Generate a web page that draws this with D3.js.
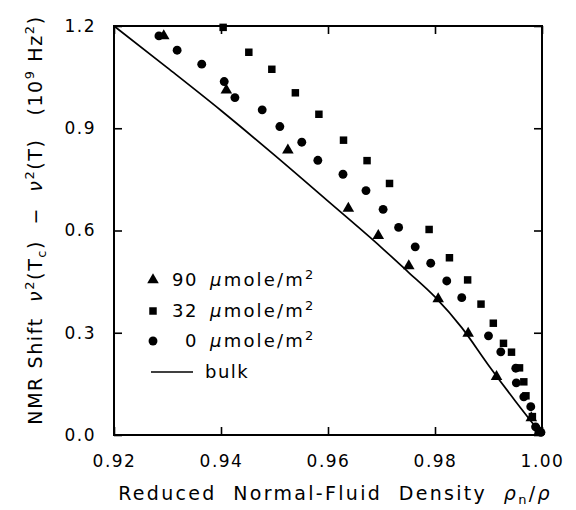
<!DOCTYPE html>
<html><head><meta charset="utf-8">
<script src="https://cdn.jsdelivr.net/npm/d3@7"></script>
<style>
body{margin:0;background:#fff;}
text{font-family:"DejaVu Sans",sans-serif;fill:#000;}
</style></head>
<body><svg id="c" width="576" height="510"></svg>
<script>
// ---- data ----
const xTicks = [0.92, 0.94, 0.96, 0.98, 1.00];
const yTicks = [0.0, 0.3, 0.6, 0.9, 1.2];
const xTickLabels = ["0.92","0.94","0.96","0.98","1.00"];
const yTickLabels = ["0.0","0.3","0.6","0.9","1.2"];

const tri90X = [0.9293,0.9410,0.9525,0.9638,0.9694,0.9751,0.9806,0.9862,0.9915,0.9980,0.9995];
const tri90Y = [1.171,1.012,0.836,0.665,0.585,0.496,0.399,0.298,0.171,0.050,0.010];

const sq32X = [0.9404,0.9452,0.9495,0.9539,0.9583,0.9629,0.9673,0.9715,0.9789,0.9827,0.9861,0.9886,0.9909,0.9928,0.9943,0.9958,0.9966,0.9970,0.9982,0.9993];
const sq32Y = [1.196,1.123,1.073,1.004,0.941,0.865,0.805,0.738,0.603,0.520,0.455,0.384,0.328,0.269,0.243,0.197,0.156,0.115,0.054,0.012];

const circ0X = [0.9284,0.9318,0.9364,0.9406,0.9426,0.9477,0.9510,0.9551,0.9581,0.9628,0.9671,0.9703,0.9732,0.9763,0.9792,0.9822,0.9850,0.9900,0.9923,0.9951,0.9952,0.9966,0.9979,0.9988,0.9998];
const circ0Y = [1.171,1.129,1.088,1.037,0.990,0.954,0.905,0.859,0.806,0.765,0.717,0.662,0.609,0.552,0.504,0.452,0.403,0.291,0.244,0.196,0.153,0.112,0.083,0.024,0.008];

const bulkX = [0.92,0.93,0.94,0.95,0.96,0.97,0.975,0.98,0.985,0.99,0.995,1.0];
const bulkY = [1.2,1.077,0.952,0.821,0.686,0.55,0.478,0.405,0.315,0.205,0.10,0.0];

const legendNums = ["90","32","0"];

// ---- layout ----
const L = 114, R = 542, T = 26, B = 435;
const svg = d3.select("#c");
const x = d3.scaleLinear().domain([0.92, 1.00]).range([L, R]);
const y = d3.scaleLinear().domain([0, 1.2]).range([B, T]);
const zip = (a, b) => a.map((v, i) => [v, b[i]]);

// bulk line
const line = d3.line().x(d => x(d[0])).y(d => y(d[1])).curve(d3.curveMonotoneX);
svg.append("path").datum(zip(bulkX, bulkY)).attr("d", line)
  .attr("fill", "none").attr("stroke", "#000").attr("stroke-width", 1.7);

// markers
const symTri = d3.symbol().type(d3.symbolTriangle).size(58);
const symSq = d3.symbol().type(d3.symbolSquare).size(56);
const symCirc = d3.symbol().type(d3.symbolCircle).size(62);
function drawPts(xs, ys, sym) {
  svg.append("g").selectAll("path").data(zip(xs, ys)).join("path")
    .attr("d", sym).attr("transform", d => `translate(${x(d[0])},${y(d[1])})`)
    .attr("fill", "#000");
}
drawPts(circ0X, circ0Y, symCirc);
drawPts(sq32X, sq32Y, symSq);
drawPts(tri90X, tri90Y, symTri);

// axes (ticks inward)
const fs = 17;
const gx = svg.append("g").attr("transform", `translate(0,${B})`)
  .call(d3.axisBottom(x).tickValues(xTicks).tickSizeInner(-8).tickSizeOuter(0)
    .tickFormat((d, i) => xTickLabels[i]).tickPadding(20));
const gxt = svg.append("g").attr("transform", `translate(0,${T})`)
  .call(d3.axisTop(x).tickValues(xTicks).tickSizeInner(-8).tickSizeOuter(0).tickFormat(""));
const gy = svg.append("g").attr("transform", `translate(${L},0)`)
  .call(d3.axisLeft(y).tickValues(yTicks).tickSizeInner(-8).tickSizeOuter(0)
    .tickFormat((d, i) => yTickLabels[i]).tickPadding(18));
const gyr = svg.append("g").attr("transform", `translate(${R},0)`)
  .call(d3.axisRight(y).tickValues(yTicks).tickSizeInner(-8).tickSizeOuter(0).tickFormat(""));
[gx, gxt, gy, gyr].forEach(g => {
  g.select(".domain").remove();
  g.selectAll(".tick line").attr("stroke", "#000").attr("stroke-width", 1.6);
  g.selectAll("text").attr("font-family", "DejaVu Sans").attr("font-size", fs)
    .style("letter-spacing", "1.5px").attr("fill", "#000");
});
svg.append("rect").attr("x", L).attr("y", T).attr("width", R - L).attr("height", B - T)
  .attr("fill", "none").attr("stroke", "#000").attr("stroke-width", 2);

// axis titles
const xt = svg.append("text").attr("x", 335).attr("y", 500).attr("text-anchor", "middle")
  .attr("font-size", 19).style("letter-spacing", "2.3px").attr("xml:space", "preserve");
xt.append("tspan").text("Reduced  Normal-Fluid  Density  ");
xt.append("tspan").attr("font-style", "italic").text("ρ");
xt.append("tspan").attr("font-size", 13).attr("dy", 4).text("n");
xt.append("tspan").attr("dy", -4).text("/");
xt.append("tspan").attr("font-style", "italic").text("ρ");

const yt = svg.append("text").attr("transform", "translate(42,220) rotate(-90)")
  .attr("text-anchor", "middle").attr("font-size", 19).style("letter-spacing", "1.6px")
  .attr("xml:space", "preserve");
yt.append("tspan").text("NMR Shift  ");
yt.append("tspan").attr("font-style", "italic").text("ν");
yt.append("tspan").attr("font-size", 13).attr("dy", -8).text("2");
yt.append("tspan").attr("dy", 8).text("(T");
yt.append("tspan").attr("font-size", 13).attr("dy", 4).text("c");
yt.append("tspan").attr("dy", -4).text(")  −  ");
yt.append("tspan").attr("font-style", "italic").text("ν");
yt.append("tspan").attr("font-size", 13).attr("dy", -8).text("2");
yt.append("tspan").attr("dy", 8).text("(T)   (10");
yt.append("tspan").attr("font-size", 13).attr("dy", -8).text("9");
yt.append("tspan").attr("dy", 8).text(" Hz");
yt.append("tspan").attr("font-size", 13).attr("dy", -8).text("2");
yt.append("tspan").attr("dy", 8).text(")");

// legend
const legSyms = [symTri, symSq, symCirc];
const legY = [280, 311, 341];
legendNums.forEach((n, i) => {
  svg.append("path").attr("d", legSyms[i]).attr("transform", `translate(153,${legY[i]})`).attr("fill", "#000");
  svg.append("text").attr("x", 198).attr("y", legY[i] + 6).attr("text-anchor", "end")
    .attr("font-size", 18).style("letter-spacing", "1.5px").text(n);
  const t = svg.append("text").attr("x", 210).attr("y", legY[i] + 6)
    .attr("font-size", 18).style("letter-spacing", "2.2px");
  t.append("tspan").attr("font-style", "italic").text("μ");
  t.append("tspan").text("mole/m");
  t.append("tspan").attr("font-size", 13).attr("dy", -7).text("2");
});
svg.append("line").attr("x1", 151).attr("x2", 193).attr("y1", 372).attr("y2", 372)
  .attr("stroke", "#000").attr("stroke-width", 1.6);
svg.append("text").attr("x", 205).attr("y", 378).attr("font-size", 18)
  .style("letter-spacing", "1.5px").text("bulk");
</script></body></html>
